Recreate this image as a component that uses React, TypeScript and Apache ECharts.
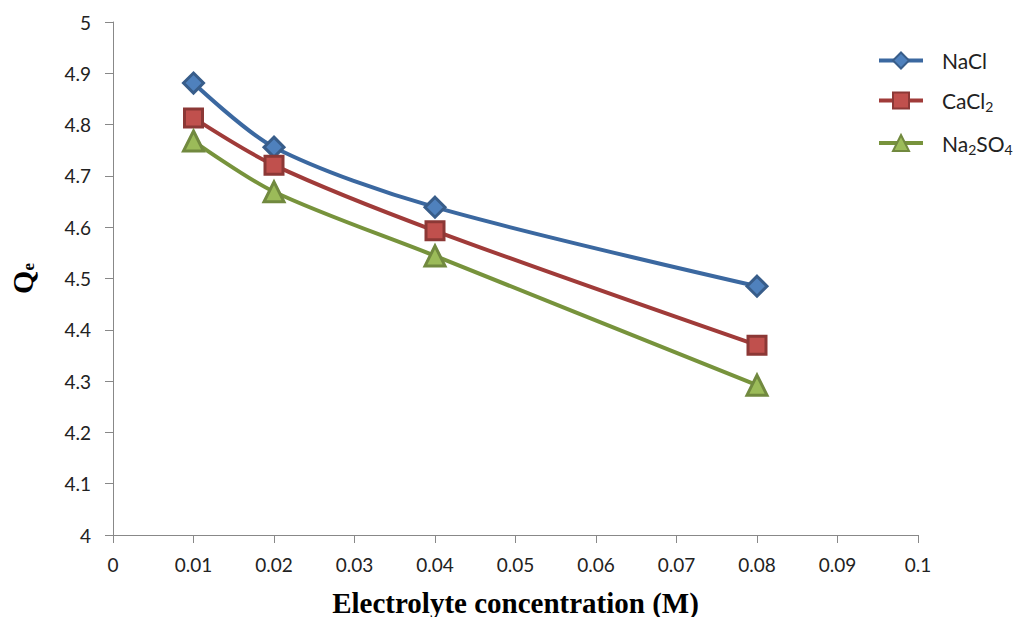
import React, { useEffect, useRef } from "react";
import * as echarts from "echarts";

const concentrations = [0.01, 0.02, 0.04, 0.08];
const naclValues = [4.881, 4.756, 4.639, 4.485];
const cacl2Values = [4.813, 4.721, 4.593, 4.37];
const na2so4Values = [4.768, 4.669, 4.544, 4.292];
const seriesNames = ["NaCl", "CaCl2", "Na2SO4"];
const legendLabels: Record<string, string> = {
  NaCl: "NaCl",
  CaCl2: "CaCl{sub|2}",
  Na2SO4: "Na{sub|2}SO{sub|4}",
};

const labelFont = "Lato";

export default function App() {
  const ref = useRef<HTMLDivElement>(null);
  useEffect(() => {
    if (!ref.current) return;
    const chart = echarts.init(ref.current, undefined, { renderer: "svg" });
    const mk = (
      name: string,
      vals: number[],
      symbol: string,
      size: number,
      line: string,
      fill: string,
      border: string
    ) => ({
      name,
      type: "line",
      smooth: 0.3,
      data: concentrations.map((c, i) => [c, vals[i]]),
      symbol,
      symbolSize: size,
      lineStyle: { color: line, width: 4 },
      itemStyle: { color: fill, borderColor: border, borderWidth: 3 },
      z: 3,
    });
    chart.setOption({
      animation: false,
      backgroundColor: "#fff",
      grid: { left: 113, right: 111, top: 22, bottom: 82, containLabel: false, outerBoundsMode: "none" },
      legend: {
        orient: "vertical",
        left: 872,
        top: 45,
        itemGap: 19,
        itemWidth: 44,
        itemHeight: 20,
        data: seriesNames,
        formatter: (n: string) => legendLabels[n],
        lineStyle: { width: 4 },
        textStyle: {
          fontFamily: labelFont,
          fontSize: 21,
          color: "#222",
          padding: [0, 0, 0, 14],
          rich: {
            sub: { fontFamily: labelFont, fontSize: 14, verticalAlign: "bottom", padding: [12, 0, 0, 0], color: "#222" },
          },
        },
      },
      xAxis: {
        type: "value",
        min: 0,
        max: 0.1,
        interval: 0.01,
        name: "Electrolyte concentration (M)",
        nameLocation: "middle",
        nameGap: 53,
        nameTextStyle: { fontFamily: "Liberation Serif", fontWeight: "bold", fontSize: 29, color: "#000" },
        axisLine: { lineStyle: { color: "#888", width: 1 } },
        axisTick: { show: true, length: 8, lineStyle: { color: "#888" } },
        axisLabel: {
          fontFamily: labelFont,
          fontSize: 19,
          color: "#222",
          margin: 20,
          formatter: (v: number) => String(parseFloat(v.toFixed(2))),
        },
        splitLine: { show: false },
      },
      yAxis: {
        type: "value",
        min: 4,
        max: 5,
        interval: 0.1,
        name: "Q{sub|e}",
        nameLocation: "middle",
        nameGap: 76,
        nameRotate: 90,
        nameTextStyle: {
          fontFamily: "Liberation Serif",
          fontWeight: "bold",
          fontSize: 30,
          color: "#000",
          rich: {
            sub: { fontFamily: "Liberation Serif", fontWeight: "bold", fontSize: 17, color: "#000", verticalAlign: "bottom", padding: [12, 0, 0, 0] },
          },
        },
        axisLine: { show: true, lineStyle: { color: "#888", width: 1 } },
        axisTick: { show: true, length: 8, lineStyle: { color: "#888" } },
        axisLabel: {
          fontFamily: labelFont,
          fontSize: 19,
          color: "#222",
          margin: 22,
          formatter: (v: number) => String(parseFloat(v.toFixed(1))),
        },
        splitLine: { show: false },
      },
      series: [
        mk("NaCl", naclValues, "diamond", 20, "#3B68A0", "#4F81BD", "#385D8A"),
        mk("CaCl2", cacl2Values, "rect", 18, "#A03B39", "#C0504D", "#8C3836"),
        mk("Na2SO4", na2so4Values, "triangle", 20, "#77933C", "#9BBB59", "#71893F"),
      ],
    });
    return () => chart.dispose();
  }, []);
  return (
    <div
      ref={ref}
      style={{ position: "fixed", left: 0, top: 0, width: 1029, height: 617 }}
    />
  );
}
